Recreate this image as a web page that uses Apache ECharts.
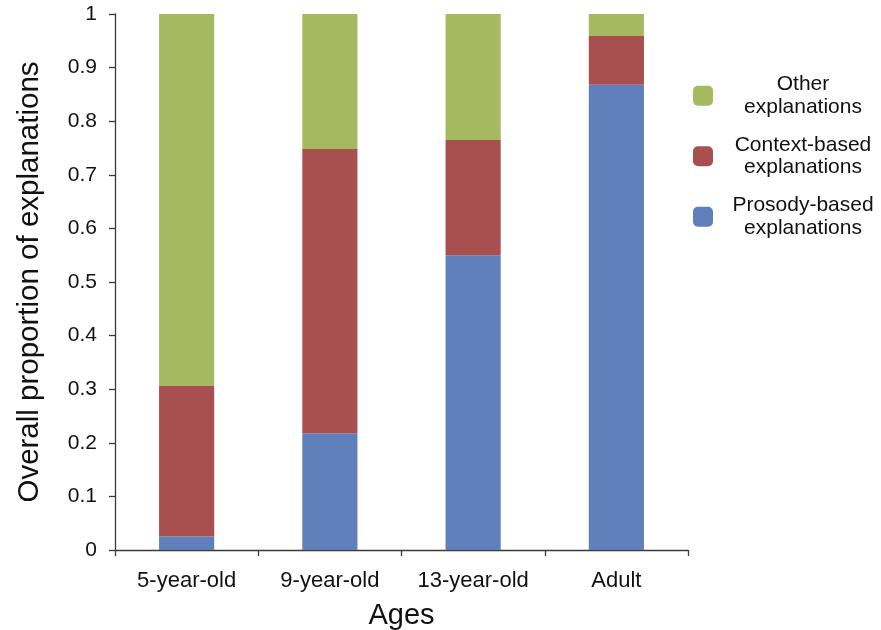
<!DOCTYPE html>
<html>
<head>
<meta charset="utf-8">
<script src="https://cdn.jsdelivr.net/npm/echarts@6/dist/echarts.min.js"></script>
<style>html,body{margin:0;padding:0;background:#fff;}#c{width:881px;height:630px;}</style>
</head>
<body>
<div id="c"></div>
<script>
const categories = ['5-year-old', '9-year-old', '13-year-old', 'Adult'];
const prosody = [0.025, 0.218, 0.550, 0.868];
const context = [0.281, 0.530, 0.215, 0.091];
const other = [0.694, 0.252, 0.235, 0.041];
const yTicks = [0, 0.1, 0.2, 0.3, 0.4, 0.5, 0.6, 0.7, 0.8, 0.9, 1];

const FONT = '"Liberation Sans", Arial, sans-serif';
const axisColor = '#3a3a3a';
const chart = echarts.init(document.getElementById('c'));

const legendNames = {
  'Other explanations': '{t|Other}\n{t|explanations}',
  'Context-based explanations': '{t|Context-based}\n{t|explanations}',
  'Prosody-based explanations': '{t|Prosody-based}\n{t|explanations}'
};

chart.setOption({
  animation: false,
  backgroundColor: '#fff',
  grid: { left: 115, right: 193, top: 14, bottom: 80, containLabel: false, outerBoundsMode: 'none' },
  legend: {
    orient: 'vertical',
    left: 688,
    top: 69,
    itemWidth: 20,
    itemHeight: 20,
    itemGap: 17,
    icon: 'roundRect',
    data: ['Other explanations', 'Context-based explanations', 'Prosody-based explanations'],
    formatter: n => legendNames[n],
    textStyle: {
      fontFamily: FONT,
      fontSize: 21,
      color: '#111',
      rich: { t: { fontFamily: FONT, fontSize: 21, color: '#111', width: 170, align: 'center', lineHeight: 22.5 } }
    }
  },
  xAxis: {
    type: 'category',
    data: categories,
    name: 'Ages',
    nameLocation: 'middle',
    nameGap: 51,
    nameTextStyle: { fontFamily: FONT, fontSize: 29, color: '#111' },
    axisLine: { lineStyle: { color: axisColor, width: 1.3 } },
    axisTick: { show: true, length: 6, inside: false, alignWithLabel: false, lineStyle: { color: axisColor, width: 1.3 } },
    axisLabel: { fontFamily: FONT, fontSize: 22, color: '#111', margin: 20, interval: 0 }
  },
  yAxis: {
    type: 'value',
    min: 0,
    max: 1,
    interval: 0.1,
    name: 'Overall proportion of explanations',
    nameLocation: 'middle',
    nameGap: 70,
    nameTextStyle: { fontFamily: FONT, fontSize: 29.5, color: '#111' },
    axisLine: { show: true, lineStyle: { color: axisColor, width: 1.3 } },
    axisTick: { show: true, length: 6, lineStyle: { color: axisColor, width: 1.3 } },
    splitLine: { show: false },
    axisLabel: {
      fontFamily: FONT, fontSize: 21, color: '#111', margin: 18,
      formatter: v => {
        const m = yTicks.find(t => Math.abs(t - v) < 1e-9);
        return m === undefined ? '' : String(m);
      }
    }
  },
  series: [
    { name: 'Prosody-based explanations', type: 'bar', stack: 's', data: prosody, barWidth: '38.5%', itemStyle: { color: '#6080BB' } },
    { name: 'Context-based explanations', type: 'bar', stack: 's', data: context, itemStyle: { color: '#A8504F' } },
    { name: 'Other explanations', type: 'bar', stack: 's', data: other, itemStyle: { color: '#A5BA60' } }
  ]
});
</script>
</body>
</html>
